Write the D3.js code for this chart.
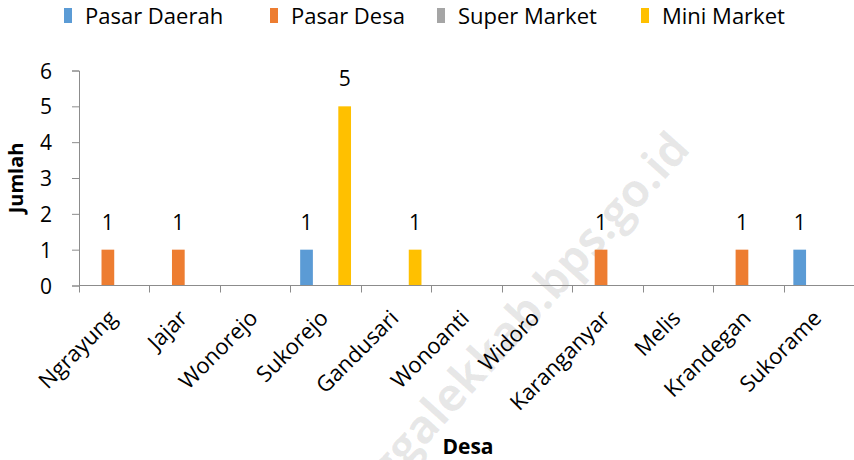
<!DOCTYPE html>
<html lang="id">
<head>
<meta charset="UTF-8">
<title>Jumlah Pasar per Desa</title>
<script src="https://cdnjs.cloudflare.com/ajax/libs/d3/7.8.5/d3.min.js"></script>
<style>
  body { margin: 0; background: #fff; }
  svg text { font-family: "Open Sans", sans-serif; fill: #000; }
  .axis path, .axis line { stroke: #8c8c8c; }
</style>
</head>
<body>
<svg id="chart" width="854" height="460"></svg>
<script>
// data
var desa = ["Ngrayung", "Jajar", "Wonorejo", "Sukorejo", "Gandusari", "Wonoanti",
            "Widoro", "Karanganyar", "Melis", "Krandegan", "Sukorame"];
var seriesNames = ["Pasar Daerah", "Pasar Desa", "Super Market", "Mini Market"];
var pasarDaerah = [0, 0, 0, 1, 0, 0, 0, 0, 0, 0, 1];
var pasarDesa   = [1, 1, 0, 0, 0, 0, 0, 1, 0, 1, 0];
var superMarket = [0, 0, 0, 0, 0, 0, 0, 0, 0, 0, 0];
var miniMarket  = [0, 0, 0, 5, 1, 0, 0, 0, 0, 0, 0];
var yTicks = [0, 1, 2, 3, 4, 5, 6];

var colors = ["#5B9BD5", "#ED7D31", "#A5A5A5", "#FFC000"];
var allSeries = [pasarDaerah, pasarDesa, superMarket, miniMarket];

var svg = d3.select("#chart");
var mLeft = 79, mRight = 854, mTop = 70.5, mBottom = 285.5;

var x0 = d3.scaleBand().domain(desa).range([mLeft, mRight]).paddingInner(0).paddingOuter(0);
var x1 = d3.scaleBand().domain(seriesNames).range([9.8, x0.bandwidth() - 9.8]).padding(0);
var y = d3.scaleLinear().domain([0, 6]).range([mBottom, mTop]);

// watermark
svg.append("text")
  .attr("transform", "translate(692,150) rotate(-48)")
  .attr("text-anchor", "end")
  .style("font-size", "46px")
  .style("font-weight", "bold")
  .style("fill", "#000")
  .style("fill-opacity", 0.09)
  .text("trenggalekkab.bps.go.id");

// bars
var rows = [];
desa.forEach(function(d, i) {
  seriesNames.forEach(function(s, j) {
    rows.push({ desa: d, series: s, value: allSeries[j][i], color: colors[j] });
  });
});
var nonZero = rows.filter(function(d) { return d.value > 0; });

svg.append("g").selectAll("rect")
  .data(nonZero)
  .join("rect")
    .attr("x", function(d) { return x0(d.desa) + x1(d.series); })
    .attr("y", function(d) { return y(d.value); })
    .attr("width", x1.bandwidth())
    .attr("height", function(d) { return y(0) - y(d.value); })
    .attr("fill", function(d) { return d.color; });

// value labels
svg.append("g").selectAll("text")
  .data(nonZero)
  .join("text")
    .attr("x", function(d) { return x0(d.desa) + x1(d.series) + x1.bandwidth() / 2; })
    .attr("y", function(d) { return y(d.value) - 20; })
    .attr("text-anchor", "middle")
    .style("font-size", "21px")
    .text(function(d) { return d.value; });

// y axis
var yAxis = svg.append("g")
  .attr("class", "axis")
  .attr("transform", "translate(" + mLeft + ",0)")
  .call(d3.axisLeft(y).tickValues(yTicks).tickSize(7).tickPadding(20).tickFormat(d3.format("d")));
yAxis.selectAll("text").style("font-size", "21px").attr("dy", "0.36em");

// x axis: baseline plus ticks on category borders
var xAxis = svg.append("g")
  .attr("class", "axis")
  .attr("transform", "translate(0," + mBottom + ")");
xAxis.append("path")
  .attr("class", "domain")
  .attr("fill", "none")
  .attr("d", "M" + mLeft + ",0H" + mRight);

var tickPos = desa.map(function(d) { return x0(d); }).concat([mRight]);
xAxis.append("g").selectAll("line")
  .data(tickPos)
  .join("line")
    .attr("x1", function(d) { return Math.round(d) + 0.5; })
    .attr("x2", function(d) { return Math.round(d) + 0.5; })
    .attr("y1", 0).attr("y2", 7);

// x labels, rotated
svg.append("g").selectAll("text")
  .data(desa)
  .join("text")
    .attr("transform", function(d) {
      return "translate(" + (x0(d) + x0.bandwidth() / 2 + 4) + "," + (mBottom + 34) + ") rotate(-45)";
    })
    .attr("text-anchor", "end")
    .style("font-size", "22px")
    .text(function(d) { return d; });

// axis titles
svg.append("text")
  .attr("transform", "translate(23,178) rotate(-90)")
  .attr("text-anchor", "middle")
  .style("font-size", "20px")
  .style("font-weight", "bold")
  .text("Jumlah");

svg.append("text")
  .attr("x", 468).attr("y", 454)
  .attr("text-anchor", "middle")
  .style("font-size", "21px")
  .style("font-weight", "bold")
  .text("Desa");

// legend
var legendX = [64, 270, 437, 641];
var legend = svg.append("g").selectAll("g")
  .data(seriesNames)
  .join("g")
    .attr("transform", function(d, i) { return "translate(" + legendX[i] + ",0)"; });
legend.append("rect")
  .attr("x", 0).attr("y", 8).attr("width", 8).attr("height", 15)
  .attr("fill", function(d, i) { return colors[i]; });
legend.append("text")
  .attr("x", 21).attr("y", 24)
  .style("font-size", "22px")
  .text(function(d) { return d; });
</script>
</body>
</html>
